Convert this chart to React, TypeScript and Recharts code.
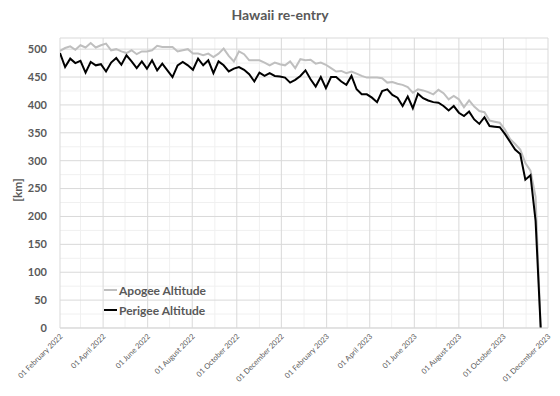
import React from 'react';
import { LineChart, Line, XAxis, YAxis, CartesianGrid, Legend } from 'recharts';

const dates = [
  '2022-02-01','2022-02-08','2022-02-15','2022-02-22','2022-03-01','2022-03-08','2022-03-15','2022-03-22','2022-03-29',
  '2022-04-05','2022-04-12','2022-04-19','2022-04-26','2022-05-03','2022-05-10','2022-05-17','2022-05-24','2022-05-31',
  '2022-06-07','2022-06-14','2022-06-21','2022-06-28','2022-07-05','2022-07-12','2022-07-19','2022-07-26','2022-08-02',
  '2022-08-09','2022-08-16','2022-08-23','2022-08-30','2022-09-06','2022-09-13','2022-09-20','2022-09-27','2022-10-04',
  '2022-10-11','2022-10-18','2022-10-25','2022-11-01','2022-11-08','2022-11-15','2022-11-22','2022-11-29','2022-12-06',
  '2022-12-13','2022-12-20','2022-12-27','2023-01-03','2023-01-10','2023-01-17','2023-01-24','2023-01-31','2023-02-07',
  '2023-02-14','2023-02-21','2023-02-28','2023-03-07','2023-03-14','2023-03-21','2023-03-28','2023-04-04','2023-04-11',
  '2023-04-18','2023-04-25','2023-05-02','2023-05-09','2023-05-16','2023-05-23','2023-05-30','2023-06-06','2023-06-13',
  '2023-06-20','2023-06-27','2023-07-04','2023-07-11','2023-07-18','2023-07-25','2023-08-01','2023-08-08','2023-08-15',
  '2023-08-22','2023-08-29','2023-09-05','2023-09-12','2023-09-19','2023-09-26','2023-10-03','2023-10-10','2023-10-17',
  '2023-10-24','2023-10-31','2023-11-07','2023-11-14','2023-11-21',
];

const apogee = [
  497, 502, 505, 499, 507, 503, 511, 503, 507, 510, 498, 500, 496, 493, 498, 491, 496,
  496, 498, 506, 504, 504, 504, 496, 498, 500, 492, 492, 489, 492, 486, 492, 501,
  488, 478, 496, 491, 480, 480, 480, 476, 471, 476, 473, 471, 478, 466, 482,
  480, 481, 474, 476, 472, 466, 460, 461, 457, 460, 456, 452, 449, 449, 449,
  448, 440, 441, 438, 436, 432, 422, 428, 426, 423, 419, 427, 421, 410, 416, 410,
  396, 408, 397, 389, 387, 372, 370, 368, 356, 339, 330, 320, 296, 282, 235, 0,
];

const perigee = [
  493, 468, 483, 475, 479, 458, 477, 471, 473, 460, 476, 484, 472, 489, 478, 466, 478,
  465, 480, 462, 474, 462, 450, 471, 477, 471, 463, 483, 471, 480, 457, 478, 471,
  460, 465, 468, 463, 455, 442, 458, 452, 457, 452, 451, 449, 440, 445, 452,
  462, 446, 433, 450, 430, 450, 450, 442, 436, 452, 428, 419, 419, 413, 405,
  425, 428, 418, 413, 398, 415, 394, 420, 412, 408, 405, 404, 398, 390, 398, 386,
  380, 388, 374, 366, 378, 362, 361, 360, 348, 334, 320, 312, 266, 274, 192, 0,
];

const monthStarts = [
  '2022-02-01','2022-03-01','2022-04-01','2022-05-01','2022-06-01','2022-07-01','2022-08-01','2022-09-01',
  '2022-10-01','2022-11-01','2022-12-01','2023-01-01','2023-02-01','2023-03-01','2023-04-01','2023-05-01',
  '2023-06-01','2023-07-01','2023-08-01','2023-09-01','2023-10-01','2023-11-01','2023-12-01',
];

const yMajor = [0, 50, 100, 150, 200, 250, 300, 350, 400, 450, 500];
const yMinor = [25, 75, 125, 175, 225, 275, 325, 375, 425, 475];
const yMax = 520;

const MONTHS = ['January','February','March','April','May','June','July','August','September','October','November','December'];

const ts = (s: string) => Date.parse(s + 'T00:00:00Z');
const fmtDate = (t: number) => {
  const d = new Date(t);
  return '01 ' + MONTHS[d.getUTCMonth()] + ' ' + d.getUTCFullYear();
};

const data = dates.map((d, i) => ({ t: ts(d), apogee: apogee[i], perigee: perigee[i] }));
const xAll = monthStarts.map(ts);
const xMajor = xAll.filter((_, i) => i % 2 === 0);
const xMinor = xAll.filter((_, i) => i % 2 === 1);

const series = [
  { key: 'apogee', name: 'Apogee Altitude', color: '#bfbfbf' },
  { key: 'perigee', name: 'Perigee Altitude', color: '#000000' },
];

const FONT = 'Lato, "Open Sans", sans-serif';
const TEXT = '#595959';

const applyScale = (axis: any, v: number) => {
  const s = axis && axis.scale;
  if (!s) return null;
  if (typeof s === 'function') return s(v);
  if (typeof s.map === 'function') return s.map(v);
  return null;
};

const gen = (axisName: 'xAxis' | 'yAxis', values: number[]) => (props: any) => {
  try {
    return values.map((v) => applyScale(props[axisName], v)).filter((p) => p != null && !isNaN(p));
  } catch (e) {
    return [];
  }
};

const XTick = (props: any) => {
  const { x, y, payload } = props;
  const tx = x + 3;
  const ty = y + 7;
  return (
    <text x={tx} y={ty} transform={`rotate(-45 ${tx} ${ty})`} textAnchor="end" fontSize={7.5}
      fontFamily={FONT} fill={TEXT}>
      {fmtDate(payload.value)}
    </text>
  );
};

const LegendContent = () => (
  <div style={{ fontFamily: FONT, fontSize: 12, fontWeight: 700, color: TEXT }}>
    {series.map((s) => (
      <div key={s.key} style={{ display: 'flex', alignItems: 'center', height: 20 }}>
        <span style={{ display: 'inline-block', width: 13, height: 2, background: s.color, marginRight: 2 }} />
        <span>{s.name}</span>
      </div>
    ))}
  </div>
);

export default function App() {
  return (
    <div style={{ position: 'absolute', left: 0, top: 0, width: 560, height: 396, background: '#fff' }}>
      <div style={{ position: 'absolute', left: 0, top: 6, width: 560, textAlign: 'center', fontFamily: FONT,
        fontSize: 14, fontWeight: 700, color: TEXT }}>
        Hawaii re-entry
      </div>
      <LineChart width={560} height={396} data={data} margin={{ top: 38, right: 12, left: 0, bottom: 0 }}>
        <CartesianGrid stroke="#f0f0f0" verticalCoordinatesGenerator={gen('xAxis', xMinor)}
          horizontalCoordinatesGenerator={gen('yAxis', yMinor)} />
        <CartesianGrid stroke="#d9d9d9" verticalCoordinatesGenerator={gen('xAxis', xMajor)}
          horizontalCoordinatesGenerator={gen('yAxis', [...yMajor, yMax])} />
        <XAxis dataKey="t" type="number" domain={[xAll[0], xAll[xAll.length - 1]]} ticks={xMajor}
          interval={0} tick={<XTick />} tickLine={false} tickSize={0} axisLine={{ stroke: '#d9d9d9' }} height={68}
          allowDataOverflow />
        <YAxis type="number" domain={[0, yMax]} ticks={yMajor} interval={0} tickLine={false} tickSize={0}
          tickMargin={13} axisLine={false} width={60}
          tick={{ fontSize: 11, fontWeight: 700, fill: TEXT, fontFamily: FONT }}
          label={{
            value: '[km]',
            content: (p: any) => {
              const vb = p.viewBox || { x: 0, y: 38, width: 60, height: 290 };
              const cx = vb.x + 17;
              const cy = vb.y + vb.height / 2 + 7;
              return (
                <text x={cx} y={cy} transform={`rotate(-90 ${cx} ${cy})`} textAnchor="middle"
                  dominantBaseline="central" fontSize={12} fontWeight={700} fill={TEXT} fontFamily={FONT}>
                  [km]
                </text>
              );
            },
          }} />
        <Legend layout="vertical" align="center" verticalAlign="middle" content={<LegendContent />}
          wrapperStyle={{ left: 104, top: 280, width: 'auto', height: 'auto' }} />
        {series.map((s) => (
          <Line key={s.key} type="linear" dataKey={s.key} name={s.name} stroke={s.color} strokeWidth={2}
            dot={false} isAnimationActive={false} />
        ))}
      </LineChart>
    </div>
  );
}
